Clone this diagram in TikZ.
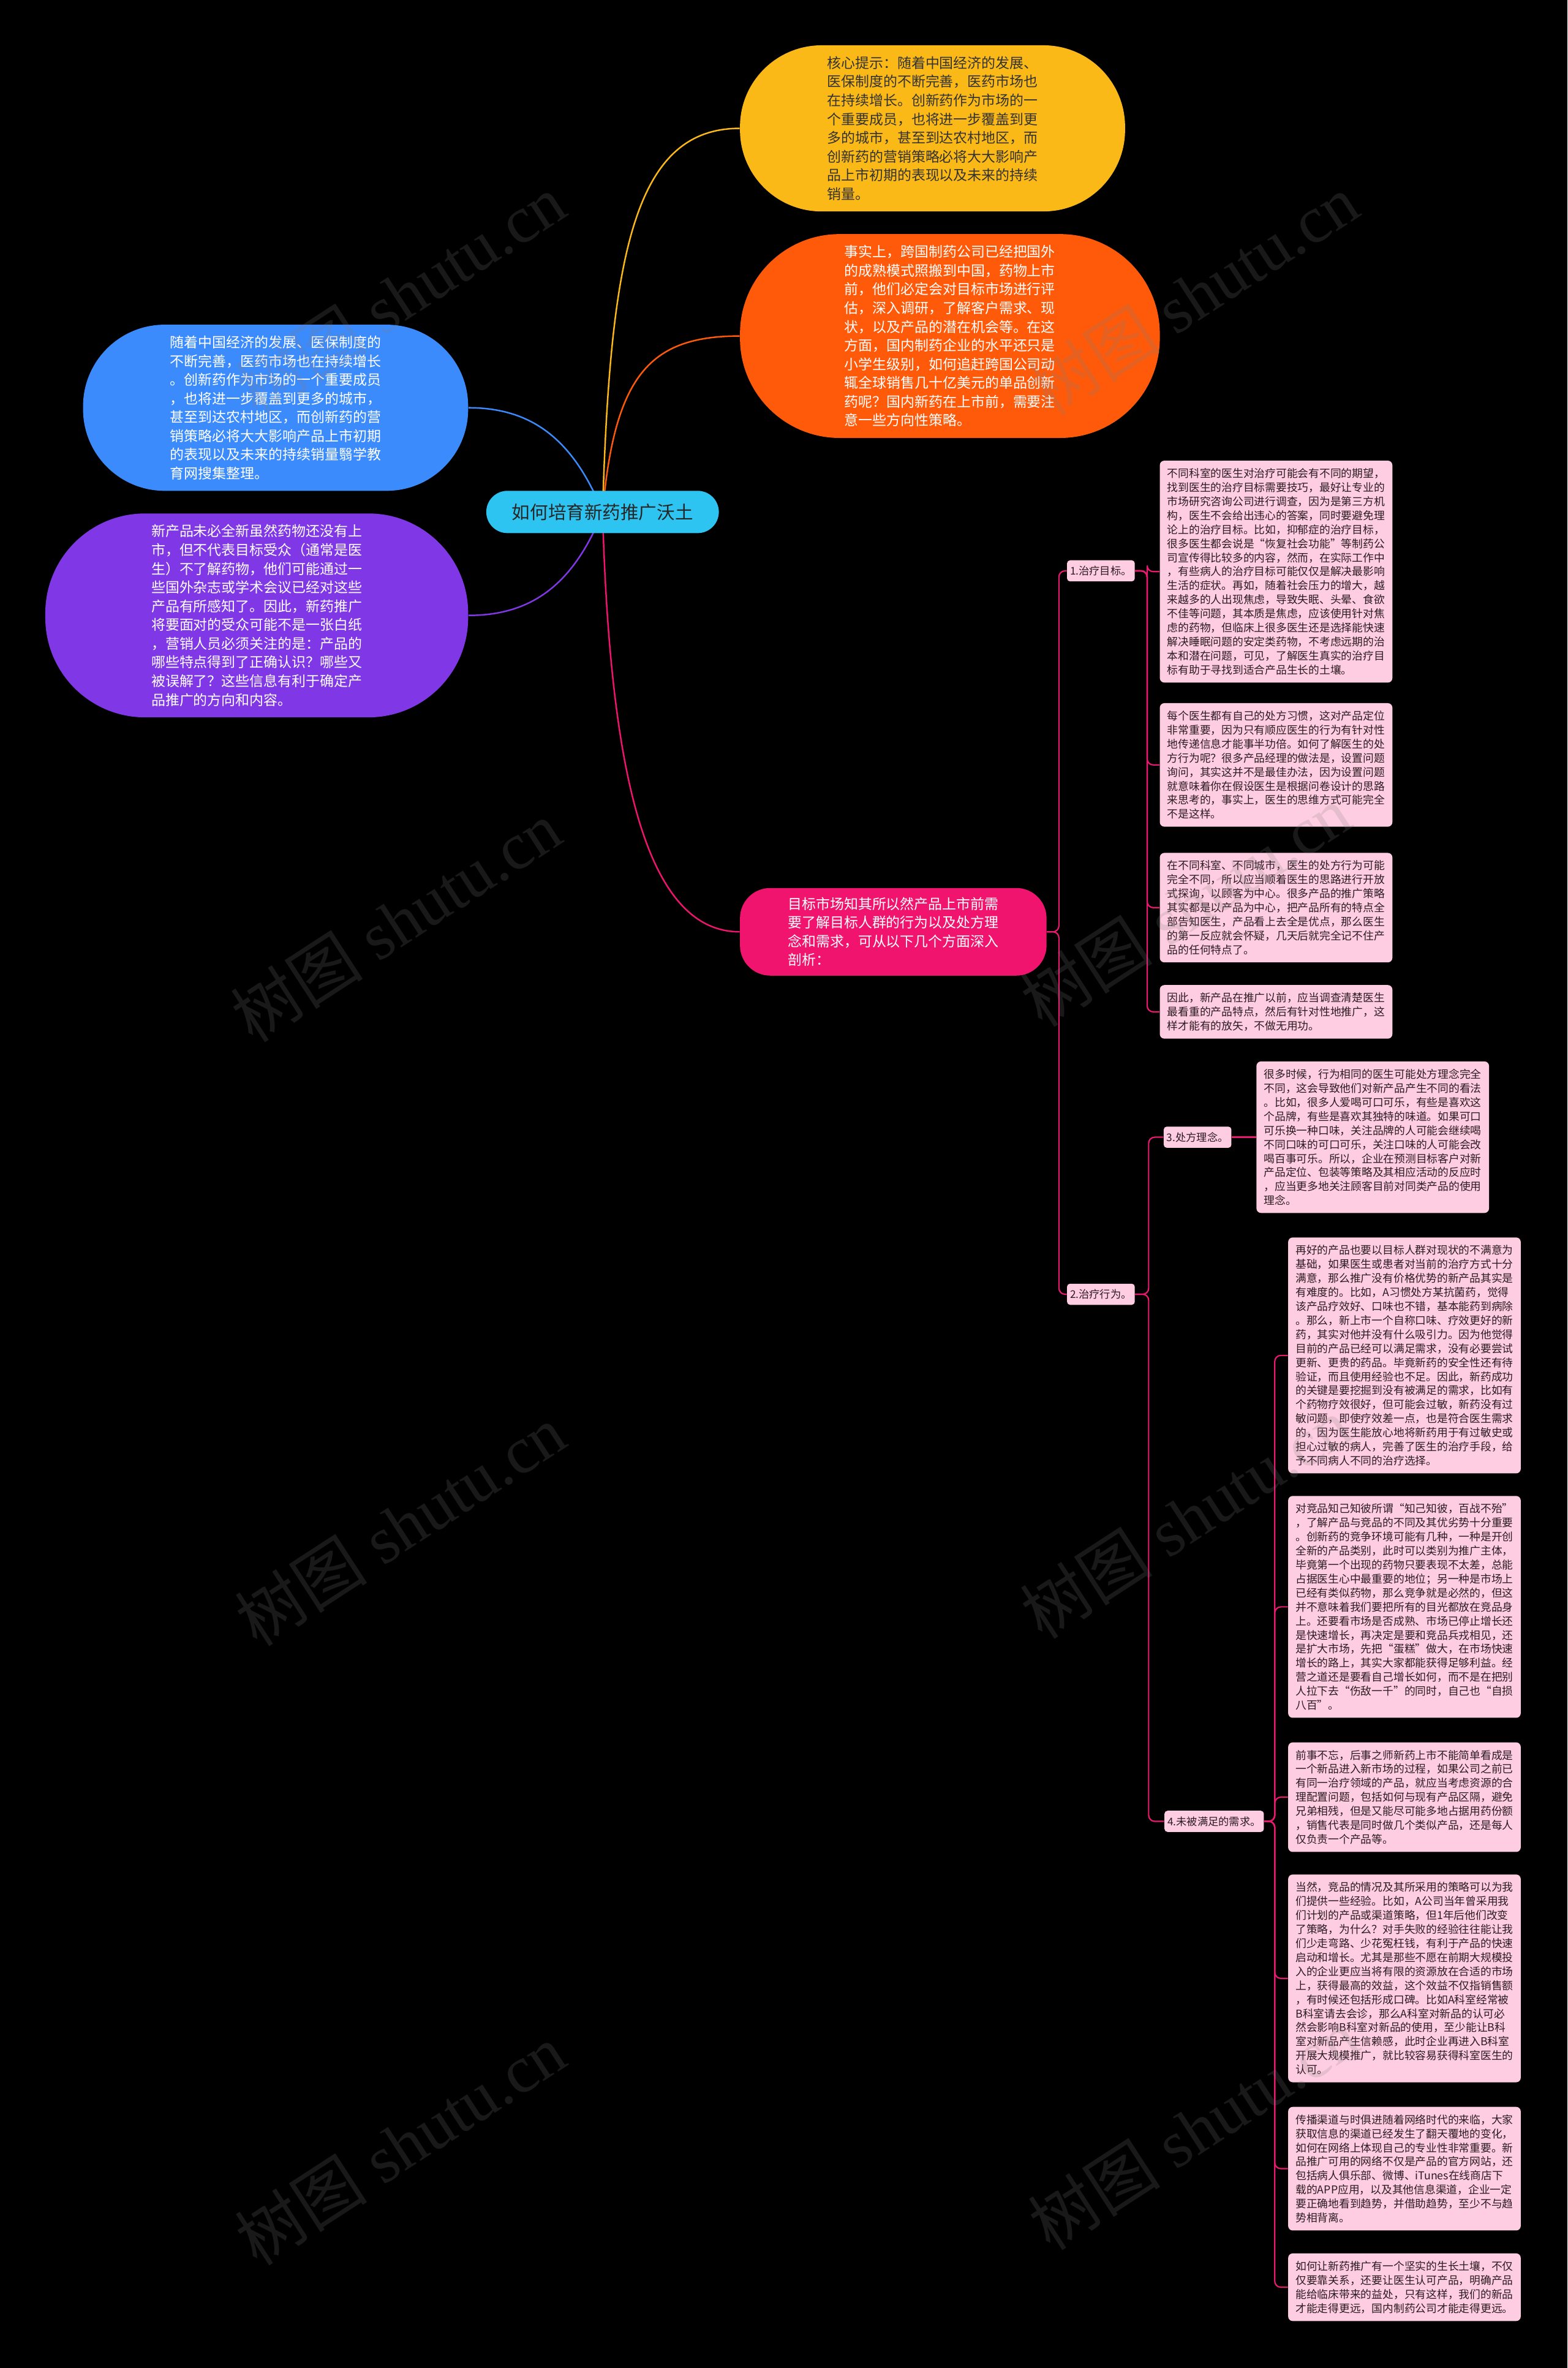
\documentclass[tikz,border=0pt]{standalone}
\usepackage{fontspec}
\newfontfamily\cjk{Noto Sans CJK SC}
\newfontfamily\wmserif{Liberation Serif}
\usetikzlibrary{backgrounds}
\definecolor{rootcyan}{HTML}{2EC4F2}
\definecolor{amber}{HTML}{FBB917}
\definecolor{tangerine}{HTML}{FF5A0A}
\definecolor{skyblue}{HTML}{3B8BFD}
\definecolor{violet}{HTML}{8038E6}
\definecolor{hotpink}{HTML}{F0146E}
\definecolor{linkpink}{HTML}{E8196F}
\definecolor{boxpink}{HTML}{FFCDE1}
\definecolor{boxtext}{HTML}{2B1B22}
\begin{document}
\begin{tikzpicture}[x=1pt, y=-1pt,
        root/.style={rectangle, rounded corners=14pt, fill=rootcyan, text=black!85, minimum width=154pt, minimum height=28pt, font=\cjk\fontsize{12}{14}\selectfont},
        topic/.style={rectangle, align=left, inner sep=0pt, font=\cjk\fontsize{9.3}{12.4}\selectfont},
        tag/.style={rectangle, rounded corners=2pt, fill=boxpink, text=boxtext, inner xsep=2pt, inner ysep=0pt, minimum height=14pt, font=\cjk\fontsize{7}{8}\selectfont},
        note/.style={rectangle, rounded corners=3pt, fill=boxpink, text=boxtext, text width=144pt, align=left, inner xsep=5pt, inner ysep=5pt, font=\cjk\fontsize{7.2}{9.3}\selectfont},
        branch/.style={line width=1pt},
        twig/.style={line width=0.9pt, draw=linkpink, rounded corners=4pt},
        wm/.style={text=gray, text opacity=0.2, rotate=33, font=\wmserif\fontsize{44}{46}\selectfont}
    ]
        \useasboundingbox (0,0) rectangle (1038,1568);

        % === centre and main topics ===
        \node[root] (root) at (399,339) {如何培育新药推广沃土};
        \node[topic, fill=amber, text=black!80, minimum width=255pt, minimum height=110pt, rounded corners=54pt] (yellow) at (617.5,85) {核心提示：随着中国经济的发展、\\医保制度的不断完善，医药市场也\\在持续增长。创新药作为市场的一\\个重要成员，也将进一步覆盖到更\\多的城市，甚至到达农村地区，而\\创新药的营销策略必将大大影响产\\品上市初期的表现以及未来的持续\\销量。};
        \node[topic, fill=tangerine, text=white, minimum width=278pt, minimum height=135pt, rounded corners=66pt] (orange) at (629,222.5) {事实上，跨国制药公司已经把国外\\的成熟模式照搬到中国，药物上市\\前，他们必定会对目标市场进行评\\估，深入调研，了解客户需求、现\\状，以及产品的潜在机会等。在这\\方面，国内制药企业的水平还只是\\小学生级别，如何追赶跨国公司动\\辄全球销售几十亿美元的单品创新\\药呢？国内新药在上市前，需要注\\意一些方向性策略。};
        \node[topic, fill=skyblue, text=white, minimum width=255pt, minimum height=110pt, rounded corners=54pt] (blue) at (182.5,270) {随着中国经济的发展、医保制度的\\不断完善，医药市场也在持续增长\\。创新药作为市场的一个重要成员\\，也将进一步覆盖到更多的城市，\\甚至到达农村地区，而创新药的营\\销策略必将大大影响产品上市初期\\的表现以及未来的持续销量翳学教\\育网搜集整理。};
        \node[topic, fill=violet, text=white, minimum width=280pt, minimum height=135pt, rounded corners=66pt] (purple) at (170,407.5) {新产品未必全新虽然药物还没有上\\市，但不代表目标受众（通常是医\\生）不了解药物，他们可能通过一\\些国外杂志或学术会议已经对这些\\产品有所感知了。因此，新药推广\\将要面对的受众可能不是一张白纸\\，营销人员必须关注的是：产品的\\哪些特点得到了正确认识？哪些又\\被误解了？这些信息有利于确定产\\品推广的方向和内容。};
        \node[topic, fill=hotpink, text=white, minimum width=203pt, minimum height=58pt, rounded corners=20pt] (pnk) at (591.5,617) {目标市场知其所以然产品上市前需\\要了解目标人群的行为以及处方理\\念和需求，可从以下几个方面深入\\剖析：};

        % === sub topics ===
        \node[tag] (t1) at (729,378) {1.治疗目标。};
        \node[tag] (t2) at (729,857) {2.治疗行为。};
        \node[tag] (t3) at (793,753) {3.处方理念。};
        \node[tag] (t4) at (804,1206) {4.未被满足的需求。};

        % === notes ===
        \node[note] (b1) at (845,378.5) {不同科室的医生对治疗可能会有不同的期望，\\找到医生的治疗目标需要技巧，最好让专业的\\市场研究咨询公司进行调查，因为是第三方机\\构，医生不会给出违心的答案，同时要避免理\\论上的治疗目标。比如，抑郁症的治疗目标，\\很多医生都会说是“恢复社会功能”等制药公\\司宣传得比较多的内容，然而，在实际工作中\\，有些病人的治疗目标可能仅仅是解决最影响\\生活的症状。再如，随着社会压力的增大，越\\来越多的人出现焦虑，导致失眠、头晕、食欲\\不佳等问题，其本质是焦虑，应该使用针对焦\\虑的药物，但临床上很多医生还是选择能快速\\解决睡眠问题的安定类药物，不考虑远期的治\\本和潜在问题，可见，了解医生真实的治疗目\\标有助于寻找到适合产品生长的土壤。};
        \node[note] (b2) at (845,506.5) {每个医生都有自己的处方习惯，这对产品定位\\非常重要，因为只有顺应医生的行为有针对性\\地传递信息才能事半功倍。如何了解医生的处\\方行为呢？很多产品经理的做法是，设置问题\\询问，其实这并不是最佳办法，因为设置问题\\就意味着你在假设医生是根据问卷设计的思路\\来思考的，事实上，医生的思维方式可能完全\\不是这样。};
        \node[note] (b3) at (845,601) {在不同科室、不同城市，医生的处方行为可能\\完全不同，所以应当顺着医生的思路进行开放\\式探询，以顾客为中心。很多产品的推广策略\\其实都是以产品为中心，把产品所有的特点全\\部告知医生，产品看上去全是优点，那么医生\\的第一反应就会怀疑，几天后就完全记不住产\\品的任何特点了。};
        \node[note] (b4) at (845,670) {因此，新产品在推广以前，应当调查清楚医生\\最看重的产品特点，然后有针对性地推广，这\\样才能有的放矢，不做无用功。};
        \node[note] (b5) at (909,753) {很多时候，行为相同的医生可能处方理念完全\\不同，这会导致他们对新产品产生不同的看法\\。比如，很多人爱喝可口可乐，有些是喜欢这\\个品牌，有些是喜欢其独特的味道。如果可口\\可乐换一种口味，关注品牌的人可能会继续喝\\不同口味的可口可乐，关注口味的人可能会改\\喝百事可乐。所以，企业在预测目标客户对新\\产品定位、包装等策略及其相应活动的反应时\\，应当更多地关注顾客目前对同类产品的使用\\理念。};
        \node[note] (b6) at (930,897.5) {再好的产品也要以目标人群对现状的不满意为\\基础，如果医生或患者对当前的治疗方式十分\\满意，那么推广没有价格优势的新产品其实是\\有难度的。比如，A习惯处方某抗菌药，觉得\\该产品疗效好、口味也不错，基本能药到病除\\。那么，新上市一个自称口味、疗效更好的新\\药，其实对他并没有什么吸引力。因为他觉得\\目前的产品已经可以满足需求，没有必要尝试\\更新、更贵的药品。毕竟新药的安全性还有待\\验证，而且使用经验也不足。因此，新药成功\\的关键是要挖掘到没有被满足的需求，比如有\\个药物疗效很好，但可能会过敏，新药没有过\\敏问题，即使疗效差一点，也是符合医生需求\\的，因为医生能放心地将新药用于有过敏史或\\担心过敏的病人，完善了医生的治疗手段，给\\予不同病人不同的治疗选择。};
        \node[note] (b7) at (930,1064) {对竞品知己知彼所谓“知己知彼，百战不殆”\\，了解产品与竞品的不同及其优劣势十分重要\\。创新药的竞争环境可能有几种，一种是开创\\全新的产品类别，此时可以类别为推广主体，\\毕竟第一个出现的药物只要表现不太差，总能\\占据医生心中最重要的地位；另一种是市场上\\已经有类似药物，那么竞争就是必然的，但这\\并不意味着我们要把所有的目光都放在竞品身\\上。还要看市场是否成熟、市场已停止增长还\\是快速增长，再决定是要和竞品兵戎相见，还\\是扩大市场，先把“蛋糕”做大，在市场快速\\增长的路上，其实大家都能获得足够利益。经\\营之道还是要看自己增长如何，而不是在把别\\人拉下去“伤敌一千”的同时，自己也“自损\\八百”。};
        \node[note] (b8) at (930,1190) {前事不忘，后事之师新药上市不能简单看成是\\一个新品进入新市场的过程，如果公司之前已\\有同一治疗领域的产品，就应当考虑资源的合\\理配置问题，包括如何与现有产品区隔，避免\\兄弟相残，但是又能尽可能多地占据用药份额\\，销售代表是同时做几个类似产品，还是每人\\仅负责一个产品等。};
        \node[note] (b9) at (930,1310) {当然，竞品的情况及其所采用的策略可以为我\\们提供一些经验。比如，A公司当年曾采用我\\们计划的产品或渠道策略，但1年后他们改变\\了策略，为什么？对手失败的经验往往能让我\\们少走弯路、少花冤枉钱，有利于产品的快速\\启动和增长。尤其是那些不愿在前期大规模投\\入的企业更应当将有限的资源放在合适的市场\\上，获得最高的效益，这个效益不仅指销售额\\，有时候还包括形成口碑。比如A科室经常被\\B科室请去会诊，那么A科室对新品的认可必\\然会影响B科室对新品的使用，至少能让B科\\室对新品产生信赖感，此时企业再进入B科室\\开展大规模推广，就比较容易获得科室医生的\\认可。};
        \node[note] (b10) at (930,1436) {传播渠道与时俱进随着网络时代的来临，大家\\获取信息的渠道已经发生了翻天覆地的变化，\\如何在网络上体现自己的专业性非常重要。新\\品推广可用的网络不仅是产品的官方网站，还\\包括病人俱乐部、微博、iTunes在线商店下\\载的APP应用，以及其他信息渠道，企业一定\\要正确地看到趋势，并借助趋势，至少不与趋\\势相背离。};
        \node[note] (b11) at (930,1514.5) {如何让新药推广有一个坚实的生长土壤，不仅\\仅要靠关系，还要让医生认可产品，明确产品\\能给临床带来的益处，只有这样，我们的新品\\才能走得更远，国内制药公司才能走得更远。};

        % === connectors ===
        \begin{pgfonlayer}{background}
            \fill[black] (0,0) rectangle (1038,1568);
            \draw[branch, amber] (root.center) .. controls +(5,-170) and +(-70,0) .. (yellow.west);
            \draw[branch, tangerine] (root.center) .. controls +(8,-90) and +(-60,0) .. (orange.west);
            \draw[branch, hotpink] (root.center) .. controls +(5,180) and +(-60,0) .. (pnk.west);
            \draw[branch, skyblue] (root.center) .. controls +(-20,-50) and +(40,0) .. (blue.east);
            \draw[branch, violet] (root.center) .. controls +(-20,50) and +(40,0) .. (purple.east);
        \end{pgfonlayer}
        \draw[twig] (pnk.east) -- ++(8,0) |- (t1.west);
        \draw[twig] (pnk.east) -- ++(8,0) |- (t2.west);
        \foreach \b in {b1,b2,b3,b4}
            \draw[twig] (t1.east) -- ++(8,0) |- (\b.west);
        \draw[twig] (t2.east) -- ++(9,0) |- (t3.west);
        \draw[twig] (t2.east) -- ++(9,0) |- (t4.west);
        \draw[twig] (t3.east) -- (b5.west);
        \foreach \b in {b6,b7,b8,b9,b10,b11}
            \draw[twig] (t4.east) -- ++(7,0) |- (\b.west);

        % === watermarks ===
        \foreach \wx/\wy [count=\i] in {265/195, 790/195, 262/610, 785/600, 265/1010, 785/1005, 265/1420, 790/1410}
            \node[wm] (wm\i) at (\wx,\wy) {{\cjk 树图} shutu.cn};
    \end{tikzpicture}
\end{document}
